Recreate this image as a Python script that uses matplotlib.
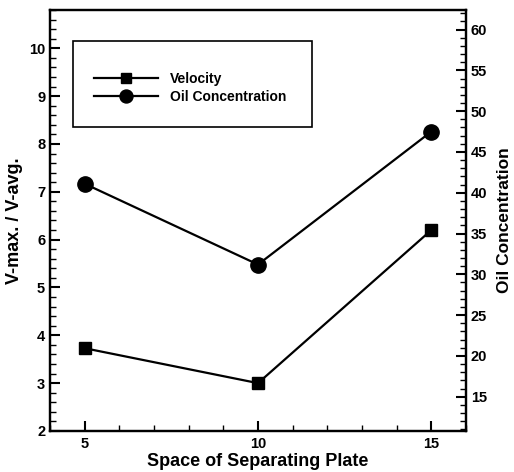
import matplotlib.pyplot as plt
from matplotlib.patches import Rectangle
from matplotlib.ticker import MultipleLocator

plt.rcParams['font.family'] = ['Liberation Sans', 'DejaVu Sans']
plt.rcParams['font.weight'] = 'bold'

# data
space = [5, 10, 15]
velocity = [3.73, 3.0, 6.2]
oil_conc = [41.1, 31.2, 47.5]

fig = plt.figure(figsize=(5.14, 4.72), dpi=100)
ax = fig.add_axes([0.0973, 0.0869, 0.8093, 0.8919])
ax2 = ax.twinx()

l1, = ax.plot(space, velocity, color='black', lw=1.6, marker='s', ms=8.5, label='Velocity')
l2, = ax2.plot(space, oil_conc, color='black', lw=1.6, marker='o', ms=11, label='Oil Concentration')

ax.set_xlim(4, 16)
ax.set_ylim(2, 10.8)
ax2.set_ylim(10.8, 62.4)

ax.xaxis.set_major_locator(MultipleLocator(5))
ax.xaxis.set_minor_locator(MultipleLocator(1))
ax.yaxis.set_major_locator(MultipleLocator(1))
ax.yaxis.set_minor_locator(MultipleLocator(0.2))
ax2.yaxis.set_major_locator(MultipleLocator(5))
ax2.yaxis.set_minor_locator(MultipleLocator(1))

ax.tick_params(axis='both', which='major', direction='in', length=7, width=1.5, labelsize=10.5)
ax.tick_params(axis='both', which='minor', direction='in', length=4, width=1)
ax.tick_params(axis='x', top=False, which='both', pad=4)
ax2.tick_params(axis='y', which='major', direction='in', length=7, width=1.5, labelsize=10.5)
ax2.tick_params(axis='y', which='minor', direction='in', length=4, width=1)

for a in (ax, ax2):
    for s in a.spines.values():
        s.set_linewidth(1.6)

ax.set_xlabel('Space of Separating Plate', fontsize=13, fontweight='bold', labelpad=2)
ax.set_ylabel('V-max. / V-avg.', fontsize=13, fontweight='bold', labelpad=4)
ax2.set_ylabel('Oil Concentration', fontsize=12.5, fontweight='bold', labelpad=7)

# legend box
ax.add_patch(Rectangle((0.055, 0.723), 0.574, 0.204, transform=ax.transAxes,
                       fill=False, lw=1.2, ec='black', zorder=5))
ax.legend([l1, l2], ['Velocity', 'Oil Concentration'], loc='upper left',
          bbox_to_anchor=(0.105, 0.853), frameon=False, fontsize=10,
          handlelength=4.6, labelspacing=0.3, borderpad=0, borderaxespad=0,
          handletextpad=0.9, markerscale=0.85)

plt.savefig('out.png', dpi=100)
